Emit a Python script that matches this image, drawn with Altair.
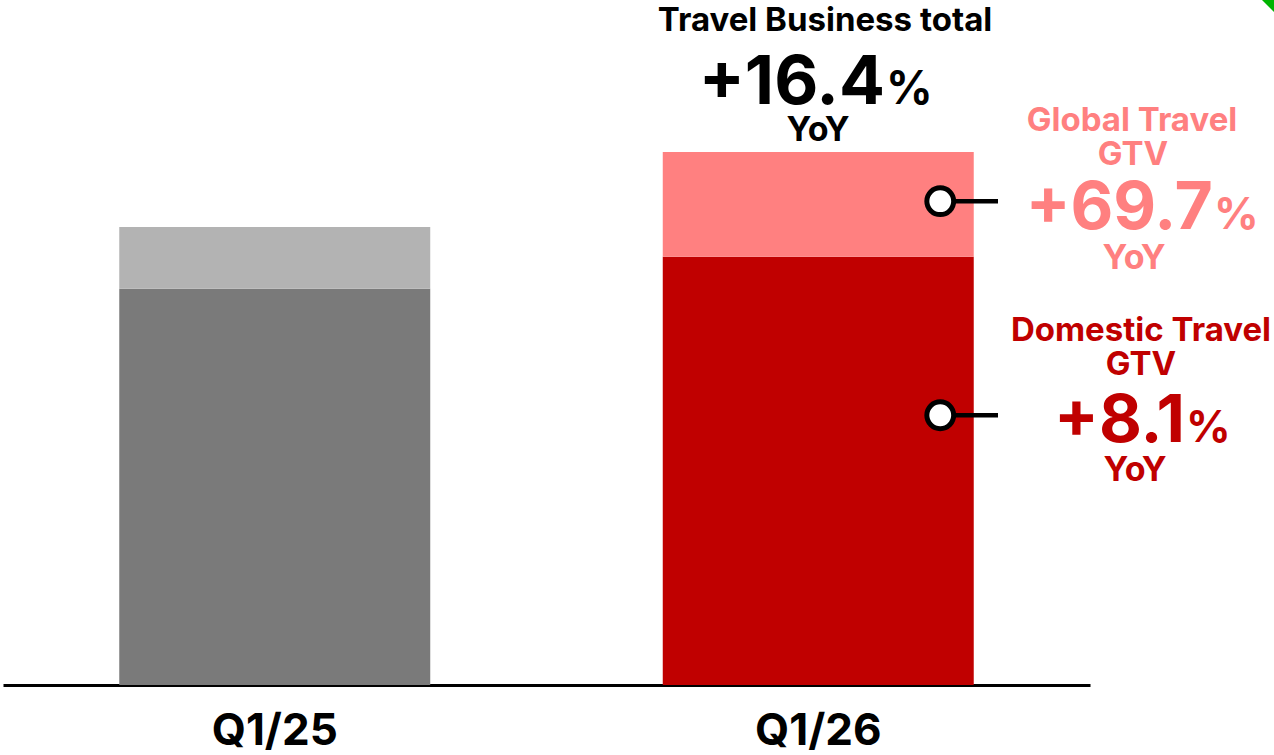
import altair as alt
import pandas as pd

# ---- data (index: Q1/25 travel total = 100) ----
quarters = ["Q1/25", "Q1/26"]
domestic = [86.5, 93.5]
global_ = [13.5, 22.9]
dom_colors = ["#7A7A7A", "#C00000"]
glob_colors = ["#B3B3B3", "#FF8080"]

FONT = "Inter"

rows = []
for q, d, g, dc, gc in zip(quarters, domestic, global_, dom_colors, glob_colors):
    rows.append({"quarter": q, "segment": "Domestic", "y0": 0.0, "y1": d, "color": dc})
    rows.append({"quarter": q, "segment": "Global", "y0": d, "y1": d + g, "color": gc})
bars_df = pd.DataFrame(rows)

W, H = 1087, 685
y_scale = alt.Scale(domain=[0, H / 4.58], nice=False, zero=True)
x_scale = alt.Scale(domain=quarters, paddingInner=0.4278, paddingOuter=0.2139)

x_enc = alt.X("quarter:N", scale=x_scale,
              axis=alt.Axis(title=None, labels=False, ticks=False, grid=False,
                            domain=True, domainColor="#000000", domainWidth=3))

bars = alt.Chart(bars_df).mark_bar(cornerRadius=0).encode(
    x=x_enc,
    y=alt.Y("y0:Q", scale=y_scale, axis=None),
    y2="y1:Q",
    color=alt.Color("color:N", scale=None),
)

labels_df = pd.DataFrame({"quarter": quarters})
xlabels = alt.Chart(labels_df).mark_text(
    font=FONT, fontWeight="bold", fontSize=44, baseline="alphabetic", align="center", color="#000000"
).encode(x=alt.X("quarter:N", scale=x_scale), y=alt.value(745), text="quarter:N")

# marker anchors on the Q1/26 segments
mk_df = pd.DataFrame({
    "quarter": ["Q1/26", "Q1/26"],
    "yv": [domestic[1] + global_[1] * 0.53, domestic[1] * 0.63],
})
connectors = alt.Chart(mk_df).mark_rule(color="#000000", strokeWidth=4.5).encode(
    x=alt.value(940), x2=alt.value(995),
    y=alt.Y("yv:Q", scale=y_scale, axis=None),
)
markers = alt.Chart(mk_df).mark_point(
    shape="circle", size=720, filled=True, fill="#FFFFFF", stroke="#000000",
    strokeWidth=5, opacity=1, xOffset=122
).encode(
    x=alt.X("quarter:N", scale=x_scale),
    y=alt.Y("yv:Q", scale=y_scale, axis=None),
)


def txt(s, x, y, size, color, align="center", weight="bold"):
    return alt.Chart(pd.DataFrame({"t": [s]})).mark_text(
        font=FONT, fontWeight=weight, fontSize=size, color=color,
        align=align, baseline="alphabetic"
    ).encode(x=alt.value(x - 3), y=alt.value(y), text="t:N")


BLACK = "#000000"
PINK = "#FF8080"
RED = "#C00000"

texts = [
    txt("Travel Business total", 825, 31, 33, BLACK),
    txt("+16.4", 885, 104, 68, BLACK, align="right"),
    txt("%", 886, 104, 46, BLACK, align="left"),
    txt("YoY", 818, 141, 34, BLACK),

    txt("Global Travel", 1132, 131, 33, PINK),
    txt("GTV", 1133, 165, 33, PINK),
    txt("+69.7", 1213, 229, 66, PINK, align="right"),
    txt("%", 1214, 229, 44, PINK, align="left"),
    txt("YoY", 1134, 269, 34, PINK),

    txt("Domestic Travel", 1141, 341, 33, RED),
    txt("GTV", 1141, 375, 33, RED),
    txt("+8.1", 1185, 442, 66, RED, align="right"),
    txt("%", 1186, 442, 44, RED, align="left"),
    txt("YoY", 1135, 481, 34, RED),
]

corner = alt.Chart(pd.DataFrame({"a": [1]})).mark_point(
    shape="M -1 -1 L 1 -1 L 1 1 Z", filled=True, fill="#00B400", strokeWidth=0, size=144, opacity=1
).encode(x=alt.value(1268 - 3), y=alt.value(6))

chart = alt.layer(bars, connectors, markers, xlabels, *texts, corner).properties(
    width=W, height=H,
    background="#FFFFFF",
    autosize=alt.AutoSizeParams(type="none"),
    padding={"left": 3, "top": 0, "right": 184, "bottom": 70},
).configure_view(stroke=None)

chart.save("out.html", embed_options={"renderer": "svg", "actions": False})
